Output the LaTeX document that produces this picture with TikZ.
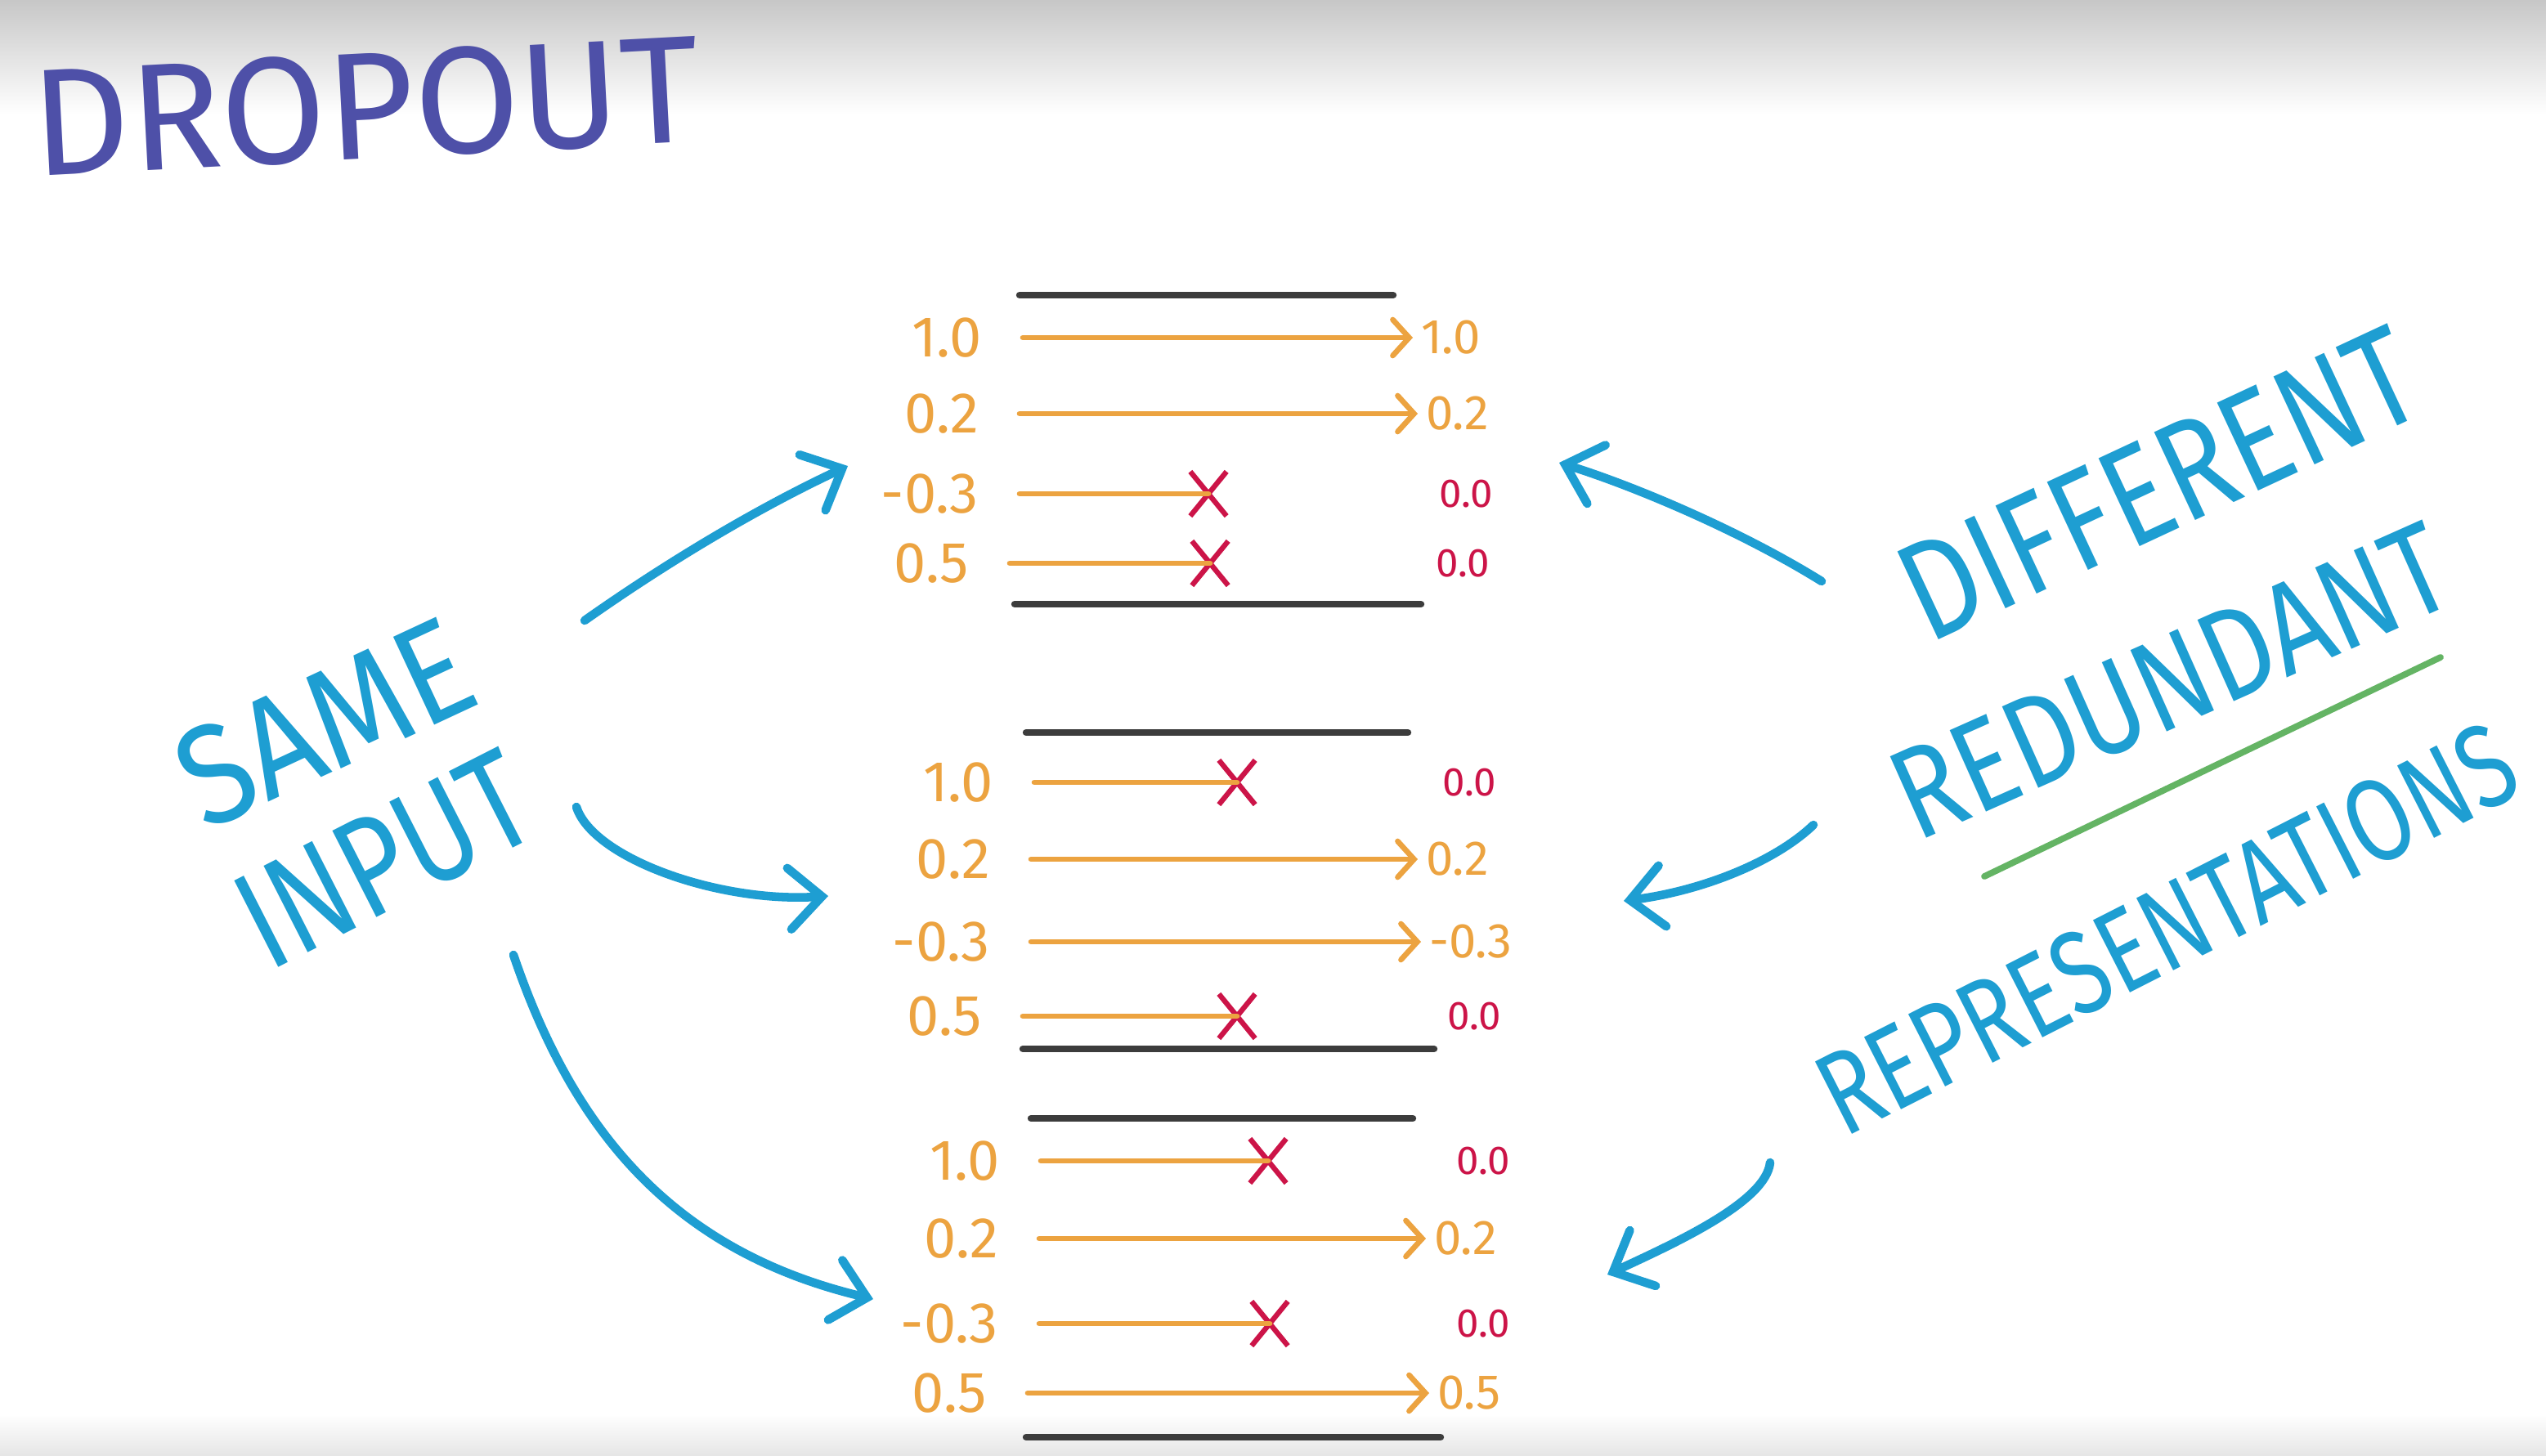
\documentclass[tikz,border=0pt]{standalone}
\usepackage{fontspec}
\setmainfont{Fira Sans}
\usepackage{tikz}
\usetikzlibrary{arrows.meta,shapes.misc}

\definecolor{handblue}{RGB}{30,158,210}
\definecolor{numorange}{RGB}{236,163,64}
\definecolor{dropred}{RGB}{204,20,72}
\definecolor{rulegray}{RGB}{60,60,60}
\definecolor{titlepurple}{RGB}{78,80,168}
\definecolor{markgreen}{RGB}{100,180,100}

\tikzset{
  numin/.style={text=numorange,font=\fontsize{20}{20}\selectfont,anchor=east,inner sep=0pt,outer xsep=0.5cm},
  numout/.style={text=numorange,font=\fontsize{17}{17}\selectfont,anchor=west,inner xsep=0.1cm,inner ysep=0pt,outer sep=0pt},
  numzero/.style={text=dropred,font=\fontsize{14}{14}\selectfont,anchor=west,inner sep=0pt},
  keepline/.style={numorange,line width=1.9pt,line cap=round,-{Straight Barb[length=2mm,width=4.4mm,line cap=round]}},
  cutline/.style={numorange,line width=1.9pt,line cap=round},
  dropx/.style={cross out,draw=dropred,line width=1.8pt,minimum width=0.38cm,minimum height=0.48cm,inner sep=0pt},
  rule/.style={rulegray,line width=2.4pt,line cap=round},
  hand/.style={text=handblue,inner sep=0pt},
  flow/.style={handblue,line width=3pt,line cap=round,-{Straight Barb[length=4mm,width=7.5mm,line cap=round]}},
  greenline/.style={markgreen,line width=2.2pt,line cap=round}
}

\begin{document}
\begin{tikzpicture}[x=1cm,y=-1cm]
\path[use as bounding box] (0,0) rectangle (31.14,17.80);

% paper
\fill[white] (0,0) rectangle (31.14,17.80);
\shade[top color=black!22,bottom color=white] (0,0) rectangle (31.14,1.4);
\shade[top color=white,bottom color=black!10] (0,17.3) rectangle (31.14,17.80);

% title
\node[text=titlepurple,font=\fontsize{53}{53}\selectfont,rotate=3,inner sep=0pt] (title) at (4.47,1.30) {DROPOUT};

% layer borders
\draw[rule] (12.47,3.61) -- (17.04,3.61);
\draw[rule] (12.41,7.39) -- (17.38,7.39);
\draw[rule] (12.55,8.96) -- (17.22,8.96);
\draw[rule] (12.51,12.83) -- (17.54,12.83);
\draw[rule] (12.61,13.68) -- (17.28,13.68);
\draw[rule] (12.55,17.58) -- (17.62,17.58);

% activations that pass
\foreach \nm/\y/\xs/\xe/\val in {
  a1/4.13/12.51/17.28/1.0, a2/5.06/12.47/17.34/0.2,
  b2/10.51/12.61/17.34/0.2, b3/11.52/12.61/17.38/-0.3,
  c2/15.15/12.71/17.44/0.2, c4/17.04/12.57/17.48/0.5}
{
  \node[numin] (in-\nm) at (\xs,\y) {\val};
  \node[numout] (out-\nm) at (\xe,\y) {\val};
  \draw[keepline] (in-\nm) -- (out-\nm);
}

% activations that are dropped
\foreach \nm/\y/\xs/\xc/\xo/\val in {
  a3/6.04/12.47/14.78/17.60/-0.3, a4/6.89/12.35/14.80/17.56/0.5,
  b1/9.57/12.65/15.13/17.64/1.0, b4/12.43/12.51/15.13/17.70/0.5,
  c1/14.20/12.73/15.51/17.81/1.0, c3/16.19/12.71/15.53/17.81/-0.3}
{
  \node[numin] (in-\nm) at (\xs,\y) {\val};
  \node[dropx] (x-\nm) at (\xc,\y) {};
  \node[numzero] (out-\nm) at (\xo,\y) {0.0};
  \draw[cutline] (in-\nm) -- (x-\nm.center);
}

% left words
\node[hand,font=\fontsize{49}{49}\selectfont,rotate=25,xscale=0.9] (same) at (3.97,8.84) {SAME};
\node[hand,font=\fontsize{49}{49}\selectfont,rotate=27,xscale=0.8] (input) at (4.70,10.52) {INPUT};

% right words
\node[hand,font=\fontsize{49}{49}\selectfont,rotate=25,xscale=0.82] (diff) at (26.40,5.92) {DIFFERENT};
\node[hand,font=\fontsize{45}{45}\selectfont,rotate=24,xscale=0.83] (redun) at (26.55,8.34) {REDUNDANT};
\node[hand,font=\fontsize{41}{41}\selectfont,rotate=27,xscale=0.78] (repr) at (26.50,11.36) {REPRESENTATIONS};
\coordinate (g1) at (24.27,10.72);
\coordinate (g2) at (29.85,8.04);
\draw[greenline] (g1) -- (g2);

% arrows from the input
\coordinate (s1) at (7.15,7.59);
\coordinate (t1) at (10.37,5.70);
\coordinate (s2) at (7.05,9.87);
\coordinate (t2) at (10.13,10.96);
\coordinate (s3) at (6.28,11.68);
\coordinate (t3) at (10.68,15.89);
\draw[flow] (s1) .. controls (8.2,6.85) and (9.3,6.2) .. (t1);
\draw[flow] (s2) .. controls (7.25,10.5) and (8.8,11.05) .. (t2);
\draw[flow] (s3) .. controls (7.0,13.8) and (8.2,15.3) .. (t3);

% arrows from the words on the right
\coordinate (r1) at (22.28,7.11);
\coordinate (u1) at (19.07,5.66);
\coordinate (r2) at (22.18,10.09);
\coordinate (u2) at (19.86,11.02);
\coordinate (r3) at (21.65,14.22);
\coordinate (u3) at (19.66,15.59);
\draw[flow] (r1) .. controls (21.3,6.5) and (20.0,5.95) .. (u1);
\draw[flow] (r2) .. controls (21.7,10.55) and (20.8,10.9) .. (u2);
\draw[flow] (r3) .. controls (21.6,14.7) and (20.5,15.2) .. (u3);
\end{tikzpicture}
\end{document}
